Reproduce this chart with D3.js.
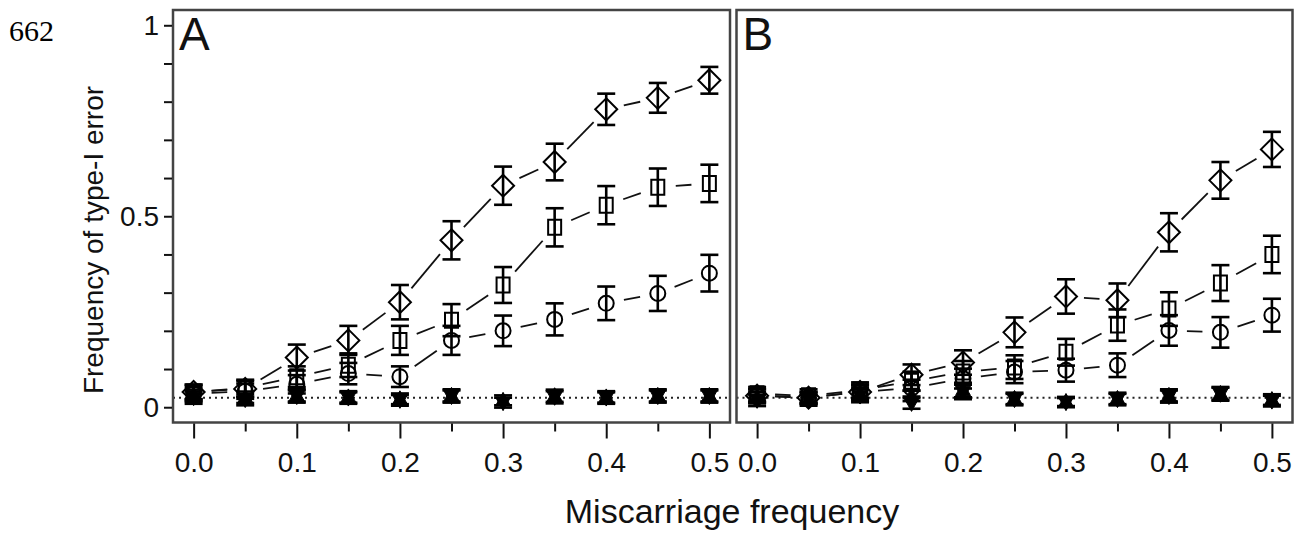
<!DOCTYPE html>
<html>
<head>
<meta charset="utf-8">
<script src="https://cdn.jsdelivr.net/npm/d3@7"></script>
<style>
  body { margin: 0; background: #fff; }
  svg { display: block; }
  text { font-family: "Liberation Sans", Arial, sans-serif; fill: #111; }
</style>
</head>
<body>
<div id="chart"></div>
<script>
// miscarriage frequencies on the x axis
const missFreq = [0, 0.05, 0.1, 0.15, 0.2, 0.25, 0.3, 0.35, 0.4, 0.45, 0.5];
const xMajorTicks = [0, 0.1, 0.2, 0.3, 0.4, 0.5];
const xMinorTicks = [0.05, 0.15, 0.25, 0.35, 0.45];
const yTicks = [0, 0.1, 0.2, 0.3, 0.4, 0.5, 0.6, 0.7, 0.8, 0.9, 1];
const yLabelled = [0, 0.5, 1];
const alphaLine = 0.025;

// panel A
const aDiamond    = [0.040, 0.048, 0.130, 0.175, 0.275, 0.437, 0.580, 0.642, 0.780, 0.810, 0.856];
const aDiamondErr = [0.019, 0.021, 0.034, 0.038, 0.045, 0.050, 0.050, 0.048, 0.041, 0.039, 0.035];
const aSquare     = [0.040, 0.050, 0.080, 0.110, 0.175, 0.228, 0.320, 0.471, 0.529, 0.576, 0.586];
const aSquareErr  = [0.019, 0.022, 0.027, 0.031, 0.038, 0.042, 0.047, 0.050, 0.050, 0.049, 0.049];
const aCircle     = [0.035, 0.042, 0.060, 0.088, 0.080, 0.175, 0.200, 0.230, 0.272, 0.298, 0.351];
const aCircleErr  = [0.018, 0.020, 0.024, 0.028, 0.027, 0.038, 0.040, 0.042, 0.044, 0.046, 0.048];
const aTriUp      = [0.030, 0.026, 0.031, 0.027, 0.022, 0.031, 0.018, 0.030, 0.027, 0.031, 0.031];
const aTriDown    = [0.025, 0.020, 0.028, 0.024, 0.018, 0.028, 0.012, 0.026, 0.024, 0.028, 0.028];
const aTriErr     = [0.016, 0.015, 0.016, 0.015, 0.014, 0.016, 0.013, 0.016, 0.015, 0.016, 0.016];

// panel B
const bDiamond    = [0.030, 0.025, 0.040, 0.085, 0.117, 0.196, 0.290, 0.280, 0.458, 0.594, 0.675];
const bDiamondErr = [0.017, 0.015, 0.019, 0.027, 0.032, 0.039, 0.045, 0.044, 0.050, 0.048, 0.046];
const bSquare     = [0.035, 0.030, 0.045, 0.068, 0.092, 0.105, 0.144, 0.215, 0.257, 0.325, 0.400];
const bSquareErr  = [0.018, 0.017, 0.020, 0.025, 0.029, 0.031, 0.035, 0.041, 0.044, 0.047, 0.049];
const bCircle     = [0.030, 0.025, 0.040, 0.050, 0.075, 0.092, 0.097, 0.110, 0.201, 0.196, 0.241];
const bCircleErr  = [0.017, 0.015, 0.019, 0.022, 0.026, 0.029, 0.030, 0.031, 0.040, 0.040, 0.043];
const bTriUp      = [0.025, 0.022, 0.035, 0.030, 0.045, 0.023, 0.015, 0.023, 0.031, 0.036, 0.020];
const bTriDown    = [0.018, 0.018, 0.030, 0.010, 0.040, 0.020, 0.012, 0.020, 0.028, 0.034, 0.016];
const bTriErr     = [0.015, 0.014, 0.017, 0.014, 0.019, 0.015, 0.012, 0.015, 0.016, 0.017, 0.014];

const panels = [
  { label: "A", left: 173, right: 730, series: [
    { shape: "diamond", values: aDiamond, err: aDiamondErr },
    { shape: "square",  values: aSquare,  err: aSquareErr },
    { shape: "circle",  values: aCircle,  err: aCircleErr },
    { shape: "triDown", values: aTriDown, err: aTriErr },
    { shape: "triUp",   values: aTriUp,   err: aTriErr }
  ]},
  { label: "B", left: 736.5, right: 1292.5, series: [
    { shape: "diamond", values: bDiamond, err: bDiamondErr },
    { shape: "square",  values: bSquare,  err: bSquareErr },
    { shape: "circle",  values: bCircle,  err: bCircleErr },
    { shape: "triDown", values: bTriDown, err: bTriErr },
    { shape: "triUp",   values: bTriUp,   err: bTriErr }
  ]}
];

const width = 1297, height = 533;
const plotTop = 10, plotBottom = 422.5;
const gap = 18;       // gap around points for the connecting lines (type "b")
const capHalf = 9;

const svg = d3.select("#chart").append("svg")
  .attr("width", width)
  .attr("height", height);

svg.append("rect").attr("width", width).attr("height", height).attr("fill", "#fff");

// page number
svg.append("text")
  .attr("x", 9).attr("y", 41)
  .style("font-family", "'Liberation Serif', 'DejaVu Serif', serif")
  .style("font-size", "30px")
  .style("fill", "#000")
  .text("662");

const y = d3.scaleLinear().domain([-0.04, 1.04]).range([plotBottom, plotTop]);

// marker paths centred on 0,0
const circlePath = d3.path();
circlePath.arc(0, 0, 7.5, 0, 2 * Math.PI);
const shapes = {
  diamond: "M0,-11L11,0L0,11L-11,0Z",
  square: "M-6.5,-7.5H6.5V7.5H-6.5Z",
  circle: circlePath.toString(),
  triUp: "M0,-8L7.5,5.5L-7.5,5.5Z",
  triDown: "M0,8L7.5,-5.5L-7.5,-5.5Z"
};

panels.forEach((p, pi) => {
  const x = d3.scaleLinear().domain([-0.02, 0.52]).range([p.left, p.right]);
  const g = svg.append("g").attr("class", "panel panel-" + p.label);

  // dotted reference line
  g.append("line")
    .attr("x1", p.left).attr("x2", p.right)
    .attr("y1", y(alphaLine)).attr("y2", y(alphaLine))
    .attr("stroke", "#222")
    .attr("stroke-width", 2)
    .attr("stroke-dasharray", "2,4");

  p.series.forEach(s => {
    const pts = missFreq.map((f, i) => ({ f, v: s.values[i], e: s.err[i] }));
    const sg = g.append("g").attr("class", "series " + s.shape);
    const filled = s.shape === "triUp" || s.shape === "triDown";

    // gapped connecting segments (open symbols only)
    const segs = filled ? [] : d3.pairs(pts).map(([a, b]) => {
      const x1 = x(a.f), y1 = y(a.v), x2 = x(b.f), y2 = y(b.v);
      const len = Math.hypot(x2 - x1, y2 - y1);
      if (len <= 2 * gap) return null;
      const ux = (x2 - x1) / len, uy = (y2 - y1) / len;
      return { x1: x1 + ux * gap, y1: y1 + uy * gap, x2: x2 - ux * gap, y2: y2 - uy * gap };
    }).filter(d => d);

    sg.selectAll("line.seg").data(segs).enter().append("line")
      .attr("class", "seg")
      .attr("x1", d => d.x1).attr("y1", d => d.y1)
      .attr("x2", d => d.x2).attr("y2", d => d.y2)
      .attr("stroke", "#111").attr("stroke-width", 1.8);

    // error bars
    const eb = sg.selectAll("g.eb").data(pts).enter().append("g").attr("class", "eb")
      .attr("stroke", "#000").attr("stroke-width", 2.6);
    eb.append("line")
      .attr("x1", d => x(d.f)).attr("x2", d => x(d.f))
      .attr("y1", d => y(d.v - d.e)).attr("y2", d => y(d.v + d.e));
    eb.append("line")
      .attr("x1", d => x(d.f) - capHalf).attr("x2", d => x(d.f) + capHalf)
      .attr("y1", d => y(d.v + d.e)).attr("y2", d => y(d.v + d.e));
    eb.append("line")
      .attr("x1", d => x(d.f) - capHalf).attr("x2", d => x(d.f) + capHalf)
      .attr("y1", d => y(d.v - d.e)).attr("y2", d => y(d.v - d.e));

    // markers
    sg.selectAll("path.pt").data(pts).enter().append("path")
      .attr("class", "pt")
      .attr("d", shapes[s.shape])
      .attr("transform", d => `translate(${x(d.f)},${y(d.v)})`)
      .attr("fill", filled ? "#000" : "none")
      .attr("stroke", "#000")
      .attr("stroke-width", filled ? 1 : 2);
  });

  // frame
  g.append("rect")
    .attr("x", p.left).attr("y", plotTop)
    .attr("width", p.right - p.left).attr("height", plotBottom - plotTop)
    .attr("fill", "none")
    .attr("stroke", "#444")
    .attr("stroke-width", 2.5);

  // panel letter
  g.append("text")
    .attr("x", p.left + 6).attr("y", 50)
    .style("font-size", "46px")
    .text(p.label);

  // x axis: minor then major ticks
  const xMinor = d3.axisBottom(x).tickValues(xMinorTicks).tickSize(8).tickFormat("");
  const xMajor = d3.axisBottom(x).tickValues(xMajorTicks).tickSize(15).tickPadding(14)
    .tickFormat(d3.format(".1f"));
  [xMinor, xMajor].forEach(ax => {
    const a = g.append("g").attr("transform", `translate(0,${plotBottom + 1})`).call(ax);
    a.select(".domain").remove();
    a.selectAll("line").attr("stroke", "#111").attr("stroke-width", 2);
    a.selectAll("text").style("font-size", "28px").style("font-family", "'Liberation Sans', Arial, sans-serif").attr("fill", "#111");
  });

  // y axis only on the first panel
  if (pi === 0) {
    const yAx = d3.axisLeft(y).tickValues(yTicks).tickSize(8).tickPadding(5)
      .tickFormat(d => yLabelled.includes(d) ? d3.format("")(d) : "");
    const a = g.append("g").attr("transform", `translate(${p.left - 1},0)`).call(yAx);
    a.select(".domain").remove();
    a.selectAll("line").attr("stroke", "#111").attr("stroke-width", 2);
    a.selectAll("text").style("font-size", "28px").style("font-family", "'Liberation Sans', Arial, sans-serif").attr("fill", "#111");
  }
});

// axis titles
svg.append("text")
  .attr("transform", "translate(103,240) rotate(-90)")
  .attr("text-anchor", "middle")
  .style("font-size", "28px")
  .text("Frequency of type-I error");

svg.append("text")
  .attr("x", 732).attr("y", 523)
  .attr("text-anchor", "middle")
  .style("font-size", "34px")
  .text("Miscarriage frequency");
</script>
</body>
</html>
